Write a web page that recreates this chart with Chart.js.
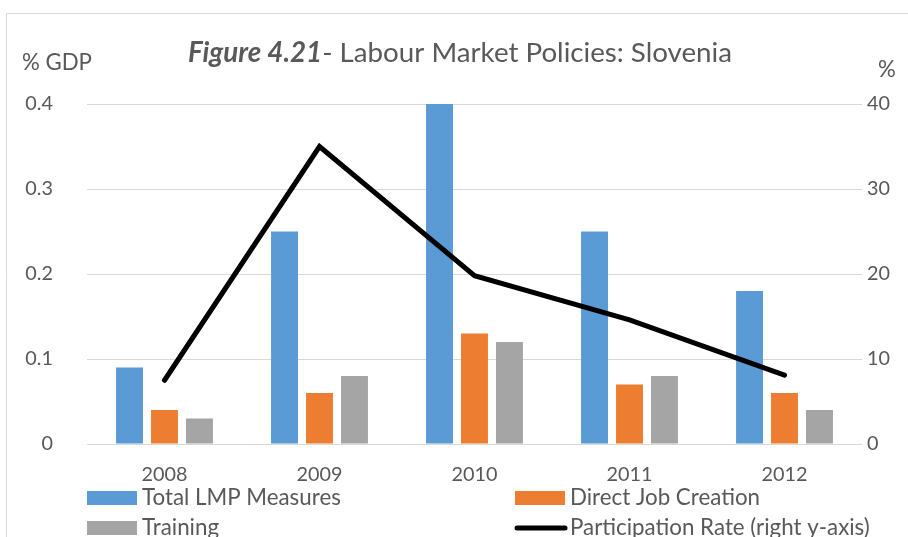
<!DOCTYPE html>
<html>
<head>
<meta charset="utf-8">
<script src="https://cdn.jsdelivr.net/npm/chart.js@4.4.1/dist/chart.umd.min.js"></script>
<style>
  html, body { margin: 0; padding: 0; background: #ffffff; }
  #wrap { width: 908px; height: 537px; position: relative; }
</style>
</head>
<body>
<div id="wrap"><canvas id="c" width="908" height="537"></canvas></div>
<script>
// ---- data ----
const categories = ['2008', '2009', '2010', '2011', '2012'];
const totalLMP = [0.09, 0.25, 0.40, 0.25, 0.18];
const directJobCreation = [0.04, 0.06, 0.13, 0.07, 0.06];
const training = [0.03, 0.08, 0.12, 0.08, 0.04];
const participationRate = [7.5, 35, 19.8, 14.6, 8.1];
const leftTickLabels = ['0', '0.1', '0.2', '0.3', '0.4'];
const rightTickLabels = ['0', '10', '20', '30', '40'];
const seriesNames = ['Total LMP Measures', 'Direct Job Creation', 'Training', 'Participation Rate (right y-axis)'];
const titleBold = 'Figure 4.21';
const titleRest = '- Labour Market Policies: Slovenia';
const leftAxisTitle = '% GDP';
const rightAxisTitle = '%';

const FONT = 'Lato, "Open Sans", "DejaVu Sans", sans-serif';
const TEXT = '#595959';

// measure helper to pick sizes
const mctx = document.createElement('canvas').getContext('2d');
function fitSize(text, target, style) {
  mctx.font = (style || '') + ' 100px ' + FONT;
  const w = mctx.measureText(text).width;
  return 100 * target / w;
}
const tickSize = Math.min(20, fitSize('2008', 46));
const legendSize = fitSize(seriesNames[0], 199);
const axisTitleSize = fitSize(leftAxisTitle, 70);

const decor = {
  id: 'decor',
  afterDraw(chart) {
    const ctx = chart.ctx;
    ctx.save();
    // outer border
    ctx.strokeStyle = '#d9d9d9';
    ctx.lineWidth = 1;
    ctx.beginPath();
    ctx.moveTo(6.5, 600); ctx.lineTo(6.5, 13.5); ctx.lineTo(920, 13.5);
    ctx.stroke();

    // title
    const boldFont = 'italic bold 24px ' + FONT;
    const normFont = '24px ' + FONT;
    ctx.font = boldFont; const wb = ctx.measureText(titleBold).width;
    ctx.font = normFont; const wr = ctx.measureText(titleRest).width;
    const scale = 544 / (wb + wr);
    const ts = 24 * scale;
    ctx.font = 'italic bold ' + ts + 'px ' + FONT; const wb2 = ctx.measureText(titleBold).width;
    ctx.font = ts + 'px ' + FONT; const wr2 = ctx.measureText(titleRest).width;
    let x0 = 460 - (wb2 + wr2) / 2;
    ctx.fillStyle = TEXT;
    ctx.textBaseline = 'middle';
    ctx.textAlign = 'left';
    ctx.font = 'italic bold ' + ts + 'px ' + FONT;
    ctx.fillText(titleBold, x0, 53);
    ctx.font = ts + 'px ' + FONT;
    ctx.fillText(titleRest, x0 + wb2, 53);

    // axis titles
    ctx.font = axisTitleSize + 'px ' + FONT;
    ctx.fillText(leftAxisTitle, 22, 63);
    ctx.fillText(rightAxisTitle, 878, 70);

    // legend
    const ds = chart.data.datasets;
    ctx.font = legendSize + 'px ' + FONT;
    const items = [
      { i: 0, x: 87, y: 498 },
      { i: 1, x: 515, y: 498 },
      { i: 2, x: 87, y: 528 },
      { i: 3, x: 515, y: 528 }
    ];
    items.forEach(it => {
      const d = ds[it.i];
      if (d.type === 'line') {
        ctx.strokeStyle = d.borderColor;
        ctx.lineWidth = 5;
        ctx.lineCap = 'round';
        ctx.beginPath();
        ctx.moveTo(it.x + 2, it.y); ctx.lineTo(it.x + 50, it.y);
        ctx.stroke();
      } else {
        ctx.fillStyle = d.backgroundColor;
        ctx.fillRect(it.x, it.y - 7, 50, 14);
      }
      ctx.fillStyle = TEXT;
      ctx.fillText(d.label, it.x + 55, it.y);
    });
    ctx.restore();
  }
};

new Chart(document.getElementById('c'), {
  type: 'bar',
  data: {
    labels: categories,
    datasets: [
      { label: seriesNames[0], data: totalLMP, backgroundColor: '#5b9bd5', yAxisID: 'y', order: 1 },
      { label: seriesNames[1], data: directJobCreation, backgroundColor: '#ed7d31', yAxisID: 'y', order: 1 },
      { label: seriesNames[2], data: training, backgroundColor: '#a5a5a5', yAxisID: 'y', order: 1 },
      { type: 'line', label: seriesNames[3], data: participationRate, borderColor: '#000000', backgroundColor: '#000000',
        borderWidth: 5, borderCapStyle: 'round', borderJoinStyle: 'miter', pointRadius: 0, tension: 0, yAxisID: 'y1', order: 0 }
    ]
  },
  options: {
    responsive: false,
    animation: false,
    devicePixelRatio: 1,
    layout: { padding: { top: 104, left: 0, right: 0, bottom: 0 } },
    datasets: { bar: { categoryPercentage: 0.677, barPercentage: 0.77 } },
    plugins: { legend: { display: false }, tooltip: { enabled: false }, title: { display: false } },
    scales: {
      x: {
        grid: { display: false },
        border: { display: false },
        ticks: { color: TEXT, font: { family: FONT, size: tickSize }, padding: 11 },
        afterFit(s) { s.height = 93; }
      },
      y: {
        position: 'left',
        min: 0, max: 0.4,
        grid: { color: '#d9d9d9', lineWidth: 1, drawTicks: false },
        border: { display: false },
        ticks: { stepSize: 0.1, color: TEXT, font: { family: FONT, size: tickSize }, padding: 34,
          callback: (v, i) => leftTickLabels[i] },
        afterFit(s) { s.width = 87; }
      },
      y1: {
        position: 'right',
        min: 0, max: 40,
        grid: { drawOnChartArea: false, drawTicks: false },
        border: { display: false },
        ticks: { stepSize: 10, color: TEXT, font: { family: FONT, size: tickSize }, padding: 5,
          callback: (v, i) => rightTickLabels[i] },
        afterFit(s) { s.width = 46; }
      }
    }
  },
  plugins: [decor]
});
</script>
</body>
</html>
